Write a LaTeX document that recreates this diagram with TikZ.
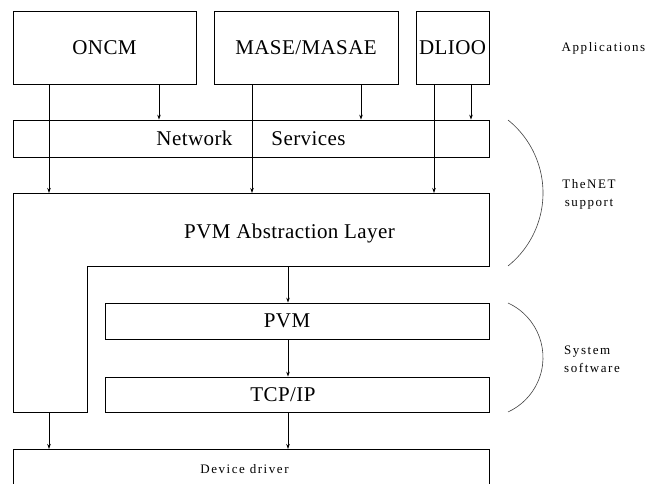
\documentclass[tikz,border=0pt]{standalone}
\usepackage{fontspec}
\setmainfont{Liberation Serif}
\newfontfamily\bigf[LetterSpace=2]{Liberation Serif}
\newfontfamily\smallf[LetterSpace=12]{Liberation Serif}
\usetikzlibrary{arrows.meta}
\begin{document}
\begin{tikzpicture}[x=1pt,y=-1pt,
  box/.style={draw, line width=0.8pt, inner sep=0pt, font=\bigf\fontsize{21}{25}\selectfont},
  lbl/.style={font=\bigf\fontsize{21}{25}\selectfont, inner sep=0pt},
  small/.style={font=\smallf\fontsize{13}{18}\selectfont, inner sep=0pt},
  arr/.style={-{Stealth[length=5pt,width=3.5pt]}, line width=0.7pt},
  brace/.style={line width=0.6pt, draw=black!75},
  layer/.style={line width=0.8pt}]
\useasboundingbox (0,0) rectangle (648,483);

% application boxes
\node[box, minimum width=183pt, minimum height=73pt] (oncm) at (104.5,47.5) {ONCM};
\node[box, minimum width=184pt, minimum height=73pt] (mase) at (306,47.5) {MASE/MASAE};
\node[box, minimum width=73pt, minimum height=73pt] (dlioo) at (452.5,47.5) {DLIOO};
\node[small, anchor=center] (apps) at (603.5,48) {Applications};

% network services
\node[box, minimum width=476pt, minimum height=37pt] (net) at (251,138.5) {Network\hspace{39pt}Services};

% PVM abstraction layer (L shape)
\coordinate (Ltl) at (13,193);
\coordinate (Ltr) at (489,193);
\coordinate (Lin) at (87,266);
\coordinate (Lbl) at (13,412);
\draw[layer] (Ltl) -- (Ltr) -- (489,266) -- (Lin) -- (87,412) -- (Lbl) -- cycle;
\node[lbl] (pal) at (289.5,233) {PVM Abstraction Layer};

% PVM and TCP/IP
\node[draw, layer, inner sep=0pt, minimum width=384pt, minimum height=36pt] (pvm) at (297,321) {};
\node[lbl] (pvmt) at (287,321) {PVM};
\node[draw, layer, inner sep=0pt, minimum width=384pt, minimum height=35pt] (tcp) at (297,394.5) {};
\node[lbl] (tcpt) at (283,394.5) {TCP/IP};

% device driver
\coordinate (Dtl) at (13,449);
\coordinate (Dtr) at (489,449);
\draw[layer] (13,490) -- (Dtl) -- (Dtr) -- (489,490);
\node[small] (dev) at (244.5,469) {Device driver};

% x positions of connectors
\coordinate (xa) at (49,0);
\coordinate (xb) at (159,0);
\coordinate (xc) at (252,0);
\coordinate (xd) at (361,0);
\coordinate (xe) at (434,0);
\coordinate (xf) at (471,0);
\coordinate (xg) at (288,0);

% connectors
\draw[arr] (oncm.south -| xb) -- (net.north -| xb);
\draw[arr] (mase.south -| xd) -- (net.north -| xd);
\draw[arr] (dlioo.south -| xf) -- (net.north -| xf);
\draw[arr] (oncm.south -| xa) -- (Ltl -| xa);
\draw[arr] (mase.south -| xc) -- (Ltl -| xc);
\draw[arr] (dlioo.south -| xe) -- (Ltl -| xe);
\draw[arr] (Lin -| xg) -- (pvm.north -| xg);
\draw[arr] (pvm.south -| xg) -- (tcp.north -| xg);
\draw[arr] (tcp.south -| xg) -- (Dtl -| xg);
\draw[arr] (Lbl -| xa) -- (Dtl -| xa);

% braces
\draw[brace] (508,120) arc[start angle=51.25, end angle=-51.25, radius=93.6pt];
\draw[brace] (508,303) arc[start angle=65.4, end angle=-65.4, radius=59.93pt];
\node[small, align=center] (thenet) at (589,194) {TheNET\\support};
\node[small, align=left, anchor=west] (sys) at (564,359.5) {System\\software};
\end{tikzpicture}
\end{document}
